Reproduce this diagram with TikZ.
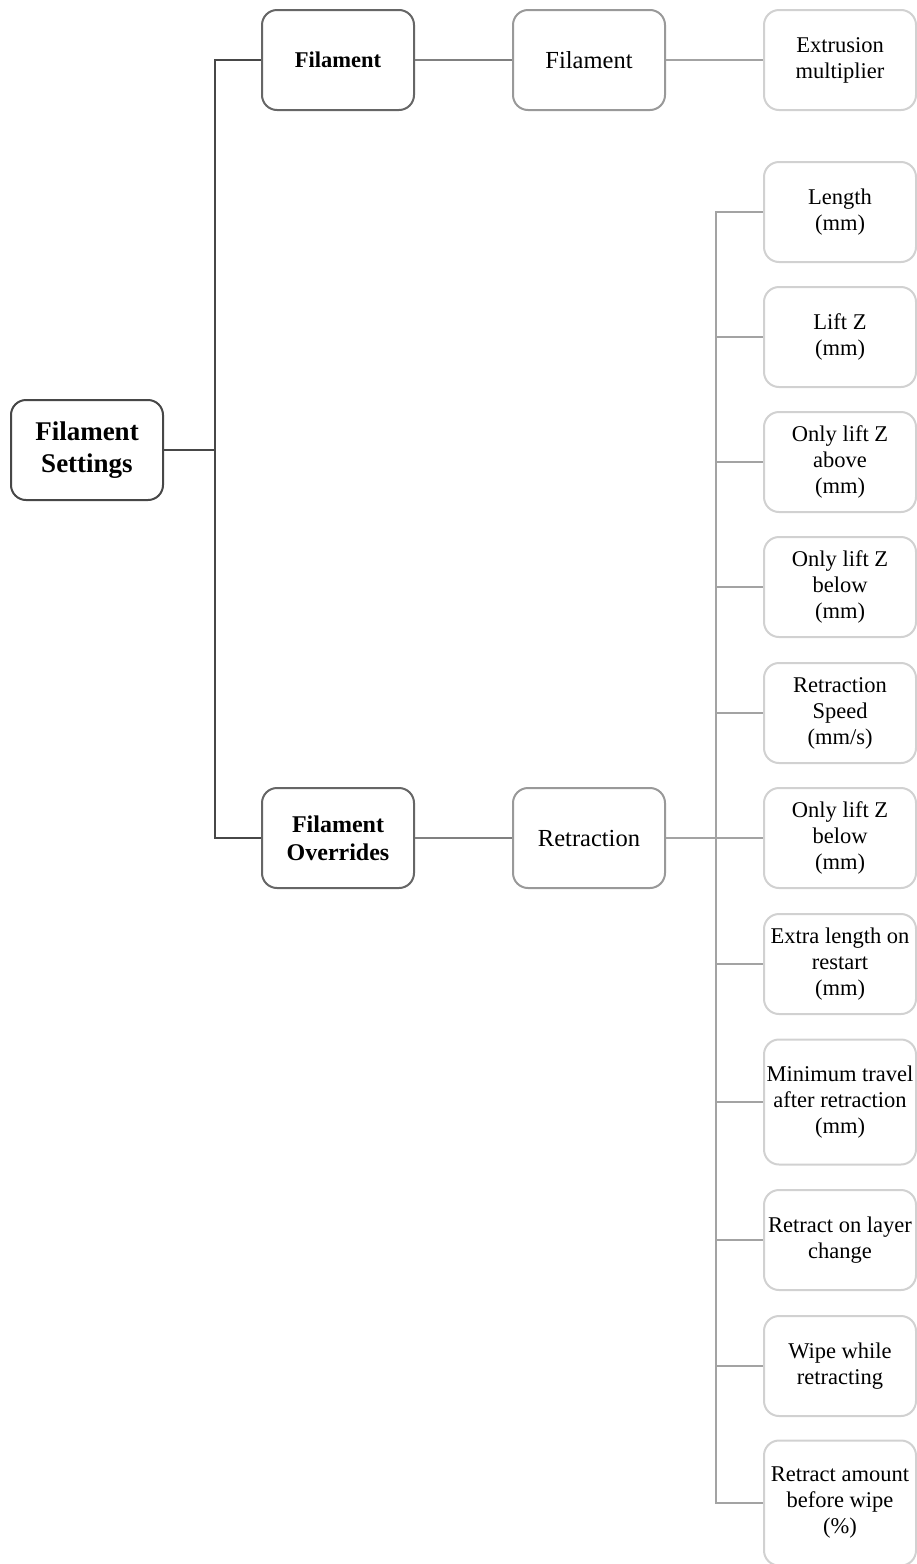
\documentclass[tikz,border=0pt]{standalone}
\usepackage{fontspec}
\setmainfont{Liberation Serif}
\begin{document}
\begin{tikzpicture}[x=1pt,y=-1pt,
  box/.style={draw, rounded corners=15pt, fill=white, line width=2pt,
    minimum width=152pt, minimum height=100pt, align=center, inner sep=2pt},
  rootbox/.style={box, draw=black!72, font=\fontsize{27}{32}\selectfont\bfseries},
  lvlone/.style={box, draw=black!60},
  lvltwo/.style={box, draw=black!40, font=\fontsize{24.5}{28}\selectfont},
  leafbox/.style={box, draw=black!18, font=\fontsize{22.5}{26}\selectfont},
  linkroot/.style={draw=black!72, line width=2pt},
  linkone/.style={draw=black!50, line width=2pt},
  linktwo/.style={draw=black!36, line width=2pt}]
\useasboundingbox (0,0) rectangle (917,1564);

% hierarchy levels
\node[rootbox] (root) at (87,450) {Filament\\Settings};
\node[lvlone, font=\fontsize{22.5}{26}\selectfont\bfseries] (fil) at (338,60) {Filament};
\node[lvlone, font=\fontsize{24}{28}\selectfont\bfseries] (ovr) at (338,838) {Filament\\Overrides};
\node[lvltwo] (filsub) at (589,60) {Filament};
\node[lvltwo] (retr) at (589,838) {Retraction};

% leaves
\node[leafbox] (extr) at (840,60) {Extrusion\\multiplier};
\node[leafbox] (l1) at (840,212) {Length\\(mm)};
\node[leafbox] (l2) at (840,337) {Lift Z\\(mm)};
\node[leafbox] (l3) at (840,462) {Only lift Z\\above\\(mm)};
\node[leafbox] (l4) at (840,587) {Only lift Z\\below\\(mm)};
\node[leafbox] (l5) at (840,713) {Retraction\\Speed\\(mm/s)};
\node[leafbox] (l6) at (840,838) {Only lift Z\\below\\(mm)};
\node[leafbox] (l7) at (840,964) {Extra length on\\restart\\(mm)};
\node[leafbox, minimum height=125pt] (l8) at (840,1102) {Minimum travel\\after retraction\\(mm)};
\node[leafbox] (l9) at (840,1240) {Retract on layer\\change};
\node[leafbox] (l10) at (840,1366) {Wipe while\\retracting};
\node[leafbox, minimum height=125pt] (l11) at (840,1503) {Retract amount\\before wipe\\(\%)};

% connectors
\draw[linkroot] (root.east) -- ++(51,0) |- (fil.west);
\draw[linkroot] (root.east) -- ++(51,0) |- (ovr.west);
\draw[linkone] (fil.east) -- (filsub.west);
\draw[linkone] (ovr.east) -- (retr.west);
\draw[linktwo] (filsub.east) -- (extr.west);
\foreach \k in {1,...,11}{
  \draw[linktwo] (retr.east) -- ++(50,0) |- (l\k.west);
}
\end{tikzpicture}
\end{document}
